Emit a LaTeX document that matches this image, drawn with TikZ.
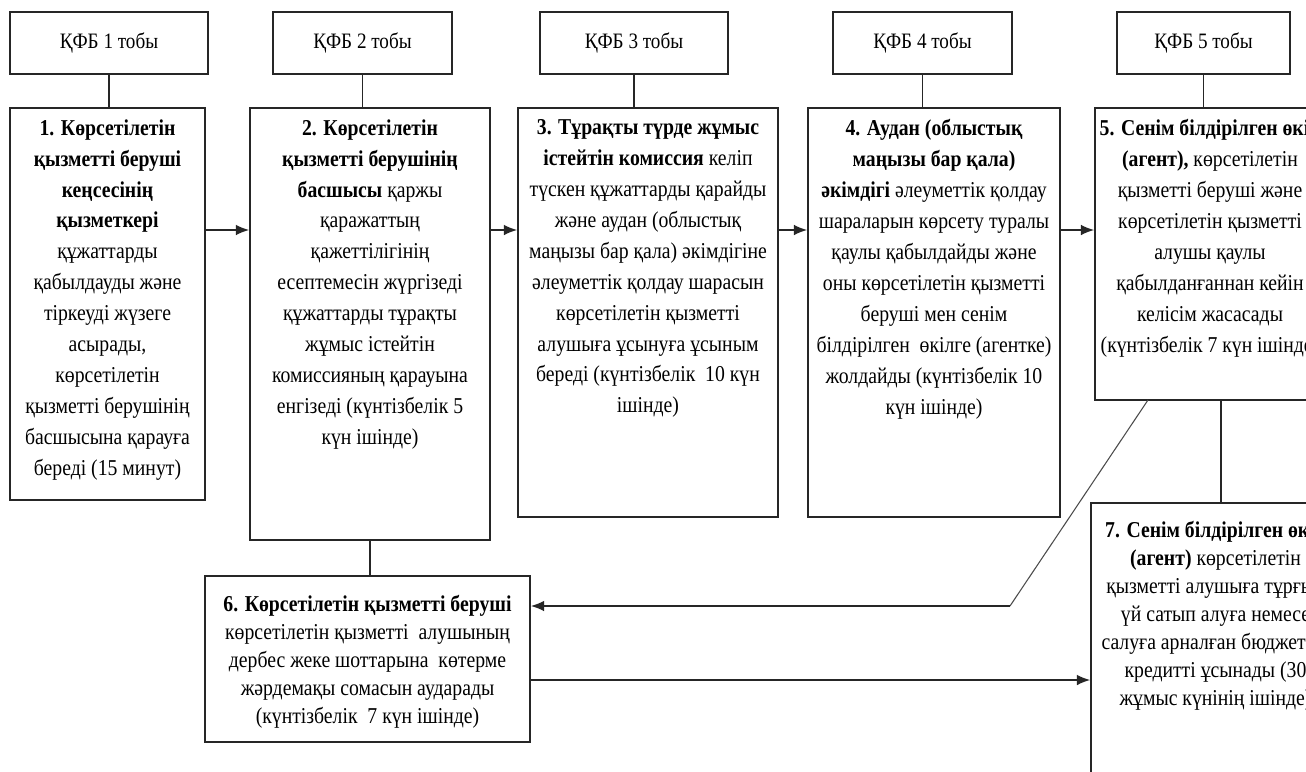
\documentclass[tikz,border=0pt]{standalone}
\usepackage{fontspec}
\setmainfont{Liberation Serif}[FakeStretch=0.87]
\usetikzlibrary{arrows.meta,fit}
\tikzset{
  box/.style={draw=black!85,line width=1.2pt,inner sep=0pt,fill=white},
  hdr/.style={box},
  txt/.style={align=center,inner sep=0pt,font=\fontsize{17pt}{23.2pt}\selectfont},
  txtb/.style={align=center,inner sep=0pt,font=\fontsize{17pt}{21pt}\selectfont},
  htxt/.style={inner sep=0pt,font=\fontsize{16.5pt}{18pt}\selectfont},
  ln/.style={draw=black!85,line width=1.2pt},
  arr/.style={ln,-{Latex[length=10pt,width=8pt]}},
  thin/.style={draw=black!70,line width=0.8pt}
}
\begin{document}
\begin{tikzpicture}[x=0.75pt,y=-0.75pt]
\useasboundingbox (0,0) rectangle (1306,771);
\fill[white] (0,0) rectangle (1306,771);
\clip (0,0) rectangle (1306,771);

% headers
\node[hdr,fit={(10,12)(208,74)}] (h1) {};
\node[hdr,fit={(273,12)(452,74)}] (h2) {};
\node[hdr,fit={(540,12)(728,74)}] (h3) {};
\node[hdr,fit={(833,12)(1012,74)}] (h4) {};
\node[hdr,fit={(1117,12)(1290,74)}] (h5) {};
\node[htxt] (ht1) at (h1.center) {ҚФБ 1 тобы};
\node[htxt] (ht2) at (h2.center) {ҚФБ 2 тобы};
\node[htxt] (ht3) at (h3.center) {ҚФБ 3 тобы};
\node[htxt] (ht4) at (h4.center) {ҚФБ 4 тобы};
\node[htxt] (ht5) at (h5.center) {ҚФБ 5 тобы};

% main boxes
\node[box,fit={(10,108)(205,500)}] (b1) {};
\node[box,fit={(250,108)(490,540)}] (b2) {};
\node[box,fit={(518,108)(778,517)}] (b3) {};
\node[box,fit={(808,108)(1060,517)}] (b4) {};
\node[box,fit={(1095,108)(1325,400)}] (b5) {};
\node[box,fit={(205,576)(530,742)}] (b6) {};
\node[box,fit={(1091,503)(1340,800)}] (b7) {};

% header connectors
\draw[ln] (h1.south) -- (h1.south |- b1.north);
\draw[ln] (h2.south) -- (h2.south |- b2.north);
\draw[ln] (h3.south) -- (h3.south |- b3.north);
\draw[ln] (h4.south) -- (h4.south |- b4.north);
\draw[ln] (h5.south) -- (h5.south |- b5.north);

% texts
\node[txt,anchor=north] (t1) at ([yshift=-9pt]b1.north) {%
\textbf{1. Көрсетілетін}\\
\textbf{қызметті беруші}\\
\textbf{кеңсесінің}\\
\textbf{қызметкері}\\
құжаттарды\\
қабылдауды және\\
тіркеуді жүзеге\\
асырады,\\
көрсетілетін\\
қызметті берушінің\\
басшысына қарауға\\
береді (15 минут)};

\node[txt,anchor=north] (t2) at ([yshift=-9pt]b2.north) {%
\textbf{2. Көрсетілетін}\\
\textbf{қызметті берушінің}\\
\textbf{басшысы} қаржы\\
қаражаттың\\
қажеттілігінің\\
есептемесін жүргізеді\\
құжаттарды тұрақты\\
жұмыс істейтін\\
комиссияның қарауына\\
енгізеді (күнтізбелік 5\\
күн ішінде)};

\node[txt,anchor=north] (t3) at ([yshift=-9pt]b3.north) {%
\textbf{3. Тұрақты түрде жұмыс}\\
\textbf{істейтін комиссия} келіп\\
түскен құжаттарды қарайды\\
және аудан (облыстық\\
маңызы бар қала) әкімдігіне\\
әлеуметтік қолдау шарасын\\
көрсетілетін қызметті\\
алушыға ұсынуға ұсыным\\
береді (күнтізбелік~~10 күн\\
ішінде)};

\node[txt,anchor=north] (t4) at ([yshift=-9pt]b4.north) {%
\textbf{4. Аудан (облыстық}\\
\textbf{маңызы бар қала)}\\
\textbf{әкімдігі} әлеуметтік қолдау\\
шараларын көрсету туралы\\
қаулы қабылдайды және\\
оны көрсетілетін қызметті\\
беруші мен сенім\\
білдірілген~~өкілге (агентке)\\
жолдайды (күнтізбелік 10\\
күн ішінде)};

\node[txt,anchor=north] (t5) at ([yshift=-9pt]b5.north) {%
\textbf{5. Сенім білдірілген өкіл}\\
\textbf{(агент),} көрсетілетін\\
қызметті беруші және\\
көрсетілетін қызметті\\
алушы қаулы\\
қабылданғаннан кейін\\
келісім жасасады\\
(күнтізбелік 7 күн ішінде)};

\node[txtb,anchor=north] (t6) at ([yshift=-15pt]b6.north) {%
\textbf{6. Көрсетілетін қызметті беруші}\\
көрсетілетін қызметті~~алушының\\
дербес жеке шоттарына~~көтерме\\
жәрдемақы сомасын аударады\\
(күнтізбелік~~7 күн ішінде)};

\node[txtb,anchor=north] (t7) at ([yshift=-14pt]b7.north) {%
\textbf{7. Сенім білдірілген өкіл}\\
\textbf{(агент)} көрсетілетін\\
қызметті алушыға тұрғын\\
үй сатып алуға немесе\\
салуға арналған бюджеттік\\
кредитті ұсынады (30\\
жұмыс күнінің ішінде)};

% row arrows
\coordinate (ay) at (0,230);
\draw[arr] (b1.east |- ay) -- (b2.west |- ay);
\draw[arr] (b2.east |- ay) -- (b3.west |- ay);
\draw[arr] (b3.east |- ay) -- (b4.west |- ay);
\draw[arr] (b4.east |- ay) -- (b5.west |- ay);

% vertical links
\coordinate (c2) at (370,0);
\draw[ln] (c2 |- b2.south) -- (c2 |- b6.north);
\coordinate (c5) at (1221,0);
\draw[ln] (c5 |- b5.south) -- (c5 |- b7.north);

% return from 5 to 6
\coordinate (d1) at (1148,400);
\coordinate (d2) at (1010,606);
\draw[thin] (d1) -- (d2);
\draw[arr] (d2) -- (b6.east |- d2);

% 6 to 7
\coordinate (e1) at (0,680);
\draw[arr] (b6.east |- e1) -- (b7.west |- e1);
\end{tikzpicture}
\end{document}
